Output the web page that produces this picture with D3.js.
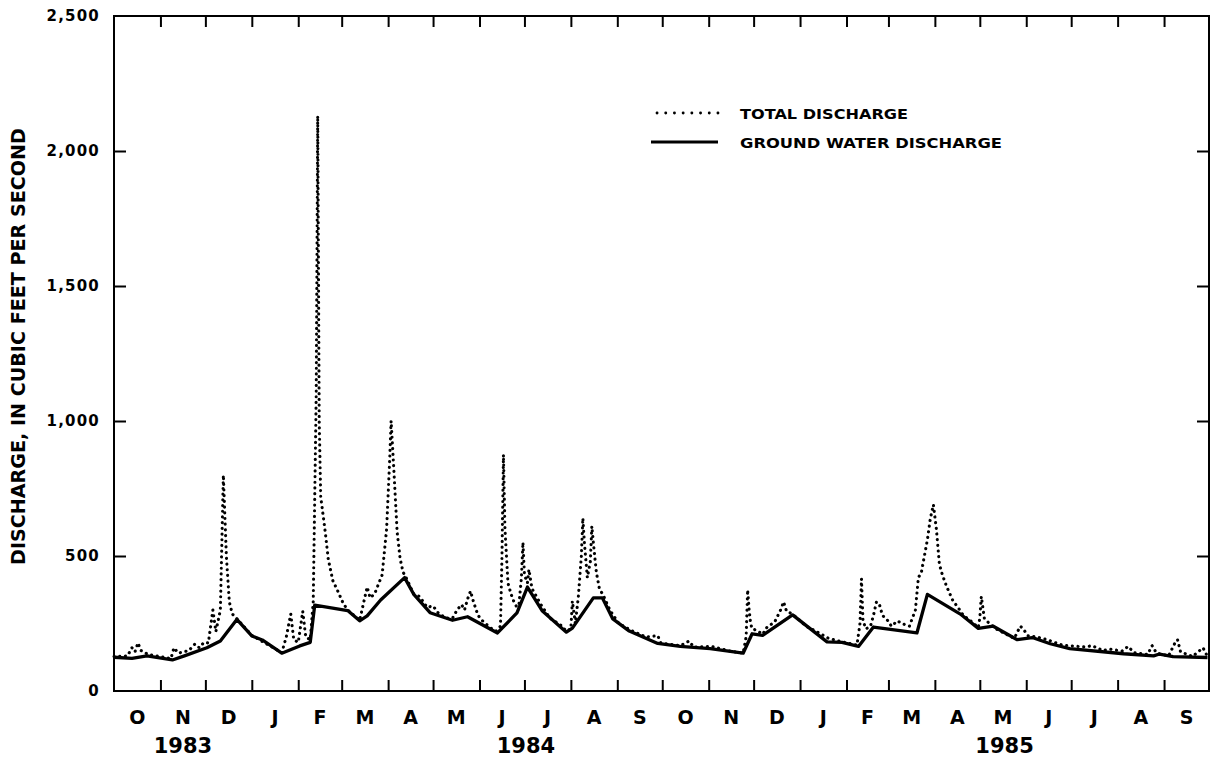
<!DOCTYPE html>
<html>
<head>
<meta charset="utf-8">
<script src="https://cdn.jsdelivr.net/npm/d3@7"></script>
<style>
  html, body { margin: 0; padding: 0; background: #ffffff; }
  svg { display: block; }
</style>
</head>
<body>
<svg id="chart" width="1214" height="764"></svg>
<script>
// ---------------- DATA ----------------
const monthLabels = ["O","N","D","J","F","M","A","M","J","J","A","S",
                     "O","N","D","J","F","M","A","M","J","J","A","S"];
const yearLabels = ["1983", "1984", "1985"];
const yTickValues = [0, 500, 1000, 1500, 2000, 2500];
const legendLabels = ["TOTAL DISCHARGE", "GROUND WATER DISCHARGE"];
const yTitle = "DISCHARGE, IN CUBIC FEET PER SECOND";

// ground water discharge (solid line), cubic feet per second
const groundWater = [
  ["1983-10-01",125],["1983-10-13",121],["1983-10-23",130],["1983-11-09",115],
  ["1983-11-17",130],["1983-12-02",160],["1983-12-11",185],["1983-12-22",265],
  ["1984-01-01",204],["1984-01-08",189],["1984-01-21",140],["1984-02-02",167],
  ["1984-02-09",180],["1984-02-12",318],["1984-03-05",298],["1984-03-13",260],
  ["1984-03-18",278],["1984-03-27",337],["1984-04-12",420],["1984-04-18",359],
  ["1984-04-29",290],["1984-05-14",262],["1984-05-24",275],["1984-06-13",215],
  ["1984-06-26",289],["1984-07-03",385],["1984-07-13",296],["1984-07-29",218],
  ["1984-08-02",233],["1984-08-16",345],["1984-08-22",345],["1984-08-29",267],
  ["1984-09-09",222],["1984-09-28",176],["1984-10-13",165],["1984-11-02",157],
  ["1984-11-24",140],["1984-11-30",212],["1984-12-07",206],["1984-12-27",282],
  ["1985-01-19",182],["1985-01-29",180],["1985-02-09",165],["1985-02-19",237],
  ["1985-03-20",215],["1985-03-27",358],["1985-04-18",285],["1985-04-30",232],
  ["1985-05-10",240],["1985-05-26",190],["1985-06-05",198],["1985-06-17",175],
  ["1985-06-30",157],["1985-08-05",138],["1985-08-25",130],["1985-08-29",137],
  ["1985-09-07",127],["1985-09-30",124]
];

// total discharge (dotted line), cubic feet per second
const totalDischarge = [
  ["1983-10-01",128],["1983-10-10",130],["1983-10-13",160],["1983-10-15",145],
  ["1983-10-17",178],["1983-10-19",150],["1983-10-24",135],["1983-11-08",120],
  ["1983-11-10",160],["1983-11-13",140],["1983-11-20",150],["1983-11-24",174],
  ["1983-11-27",160],["1983-11-30",180],["1983-12-03",178],["1983-12-06",300],
  ["1983-12-08",220],["1983-12-11",300],["1983-12-13",800],["1983-12-15",500],
  ["1983-12-17",330],["1983-12-19",285],["1983-12-22",268],["1984-01-01",206],
  ["1984-01-21",142],["1984-01-24",200],["1984-01-27",285],["1984-01-29",190],
  ["1984-02-01",180],["1984-02-04",295],["1984-02-06",200],["1984-02-09",190],
  ["1984-02-11",330],["1984-02-13",1100],["1984-02-14",2130],["1984-02-15",1000],
  ["1984-02-16",720],["1984-02-19",590],["1984-02-21",490],["1984-02-24",410],
  ["1984-02-27",375],["1984-03-02",325],["1984-03-05",300],["1984-03-13",262],
  ["1984-03-18",385],["1984-03-20",345],["1984-03-23",360],["1984-03-28",430],
  ["1984-03-31",600],["1984-04-02",850],["1984-04-03",1000],["1984-04-05",800],
  ["1984-04-07",590],["1984-04-09",490],["1984-04-11",440],["1984-04-13",420],
  ["1984-04-18",360],["1984-04-22",350],["1984-04-27",310],["1984-05-01",315],
  ["1984-05-05",285],["1984-05-10",270],["1984-05-14",270],["1984-05-17",300],
  ["1984-05-20",320],["1984-05-22",300],["1984-05-24",340],["1984-05-26",370],
  ["1984-05-28",330],["1984-05-31",280],["1984-06-03",260],["1984-06-08",235],
  ["1984-06-12",222],["1984-06-15",240],["1984-06-16",500],["1984-06-17",875],
  ["1984-06-18",600],["1984-06-20",400],["1984-06-22",360],["1984-06-24",330],
  ["1984-06-27",300],["1984-06-29",420],["1984-06-30",550],["1984-07-01",430],
  ["1984-07-03",400],["1984-07-04",450],["1984-07-06",380],["1984-07-08",360],
  ["1984-07-12",320],["1984-07-18",270],["1984-07-25",245],["1984-07-29",222],
  ["1984-08-01",230],["1984-08-02",333],["1984-08-04",250],["1984-08-06",350],
  ["1984-08-08",500],["1984-08-09",640],["1984-08-10",550],["1984-08-12",420],
  ["1984-08-14",480],["1984-08-15",610],["1984-08-16",550],["1984-08-18",440],
  ["1984-08-20",380],["1984-08-23",350],["1984-08-27",300],["1984-09-02",250],
  ["1984-09-10",225],["1984-09-20",200],["1984-09-28",205],["1984-09-30",178],
  ["1984-10-13",168],["1984-10-19",185],["1984-10-22",162],["1984-11-03",165],
  ["1984-11-15",148],["1984-11-24",140],["1984-11-26",200],["1984-11-27",375],
  ["1984-11-28",300],["1984-11-29",250],["1984-11-30",230],["1984-12-03",225],
  ["1984-12-07",210],["1984-12-10",237],["1984-12-15",255],["1984-12-19",300],
  ["1984-12-21",330],["1984-12-23",295],["1984-12-27",285],["1985-01-05",240],
  ["1985-01-12",220],["1985-01-20",195],["1985-01-29",182],["1985-02-08",170],
  ["1985-02-10",250],["1985-02-11",415],["1985-02-12",260],["1985-02-14",230],
  ["1985-02-17",240],["1985-02-19",280],["1985-02-21",330],["1985-02-23",320],
  ["1985-02-25",280],["1985-02-28",265],["1985-03-03",240],["1985-03-07",260],
  ["1985-03-10",250],["1985-03-15",240],["1985-03-19",300],["1985-03-21",420],
  ["1985-03-23",440],["1985-03-25",500],["1985-03-27",560],["1985-03-29",640],
  ["1985-03-31",690],["1985-04-02",600],["1985-04-04",470],["1985-04-06",430],
  ["1985-04-09",385],["1985-04-13",335],["1985-04-17",305],["1985-04-20",280],
  ["1985-04-26",255],["1985-04-30",235],["1985-05-01",270],["1985-05-02",350],
  ["1985-05-04",270],["1985-05-07",252],["1985-05-12",230],["1985-05-17",215],
  ["1985-05-24",195],["1985-05-28",240],["1985-05-30",230],["1985-06-02",205],
  ["1985-06-08",200],["1985-06-15",190],["1985-06-25",170],["1985-07-10",163],
  ["1985-07-15",168],["1985-07-22",150],["1985-07-27",155],["1985-08-04",148],
  ["1985-08-08",165],["1985-08-12",142],["1985-08-21",135],["1985-08-24",168],
  ["1985-08-27",140],["1985-09-04",130],["1985-09-08",175],["1985-09-10",190],
  ["1985-09-12",145],["1985-09-20",128],["1985-09-27",160],["1985-09-30",128]
];

// ---------------- CHART ----------------
const W = 1214, H = 764;
const margin = { left: 114, top: 16, right: 5, bottom: 73 };
const x0 = margin.left, x1 = W - margin.right;
const y0 = H - margin.bottom, y1 = margin.top;

const parse = d3.timeParse("%Y-%m-%d");
const startDate = new Date(1983, 9, 1), endDate = new Date(1985, 9, 1);

const x = d3.scaleTime().domain([startDate, endDate]).range([x0, x1]);
const y = d3.scaleLinear().domain([0, 2500]).range([y0, y1]);

const svg = d3.select("#chart");
const boldFont = "'DejaVu Sans', 'Liberation Sans', sans-serif";
const narrowFont = "'Liberation Sans Narrow', 'DejaVu Sans Condensed', 'Liberation Sans', sans-serif";

// Frame
svg.append("rect")
  .attr("x", x0).attr("y", y1)
  .attr("width", x1 - x0).attr("height", y0 - y1)
  .attr("fill", "none").attr("stroke", "#000").attr("stroke-width", 2);

const monthTicks = d3.timeMonth.range(d3.timeMonth.offset(startDate, 1), endDate);

const bottomAxis = d3.axisBottom(x).tickValues(monthTicks).tickSizeInner(-11).tickSizeOuter(0).tickFormat("");
const gB = svg.append("g").attr("transform", `translate(0,${y0})`).call(bottomAxis);
const topAxis = d3.axisTop(x).tickValues(monthTicks).tickSizeInner(-11).tickSizeOuter(0).tickFormat("");
const gT = svg.append("g").attr("transform", `translate(0,${y1})`).call(topAxis);
const leftAxis = d3.axisLeft(y).tickValues(yTickValues.slice(1, -1)).tickSizeInner(-12).tickSizeOuter(0).tickFormat("");
const gL = svg.append("g").attr("transform", `translate(${x0},0)`).call(leftAxis);
const rightAxis = d3.axisRight(y).tickValues(yTickValues.slice(1, -1)).tickSizeInner(-12).tickSizeOuter(0).tickFormat("");
const gR = svg.append("g").attr("transform", `translate(${x1},0)`).call(rightAxis);

[gB, gT, gL, gR].forEach(g => {
  g.select(".domain").remove();
  g.selectAll(".tick line").attr("stroke", "#000").attr("stroke-width", 2);
});

// Y tick labels
svg.append("g").selectAll("text")
  .data(yTickValues)
  .join("text")
  .attr("x", 100)
  .attr("y", d => y(d))
  .attr("dy", "0.36em")
  .attr("text-anchor", "end")
  .attr("font-family", boldFont)
  .attr("font-weight", "bold")
  .attr("font-size", 15)
  .attr("letter-spacing", 1.2)
  .text(d => d3.format(",")(d));

// Month labels
const monthStarts = d3.timeMonth.range(startDate, endDate);
svg.append("g").selectAll("text")
  .data(monthStarts)
  .join("text")
  .attr("x", d => (x(d) + x(d3.timeMonth.offset(d, 1))) / 2)
  .attr("y", 724)
  .attr("text-anchor", "middle")
  .attr("font-family", boldFont)
  .attr("font-weight", "bold")
  .attr("font-size", 19)
  .text((d, i) => monthLabels[i]);

// Year labels centered on visible span of each year
svg.append("g").selectAll("text")
  .data(yearLabels)
  .join("text")
  .attr("x", d => {
    const a = new Date(Math.max(+new Date(+d, 0, 1), +startDate));
    const b = new Date(Math.min(+new Date(+d + 1, 0, 1), +endDate));
    return (x(a) + x(b)) / 2;
  })
  .attr("y", 753)
  .attr("text-anchor", "middle")
  .attr("font-family", boldFont)
  .attr("font-weight", "bold")
  .attr("font-size", 21)
  .text(d => d);

// Y axis title
svg.append("text")
  .attr("transform", `translate(25,${(128 + 565) / 2}) rotate(-90)`)
  .attr("text-anchor", "middle")
  .attr("font-family", narrowFont)
  .attr("font-weight", "bold")
  .attr("font-size", 20)
  .attr("textLength", 437)
  .attr("lengthAdjust", "spacingAndGlyphs")
  .text(yTitle);

// Lines
const gwData = groundWater.map(d => ({ date: parse(d[0]), value: d[1] }));
const totData = totalDischarge.map(d => ({ date: parse(d[0]), value: d[1] }));
const line = d3.line().x(d => x(d.date)).y(d => y(d.value));

svg.append("path")
  .datum(totData)
  .attr("d", line)
  .attr("fill", "none")
  .attr("stroke", "#000")
  .attr("stroke-width", 3.1)
  .attr("stroke-linecap", "round")
  .attr("stroke-dasharray", "0.1,5.6");

svg.append("path")
  .datum(gwData)
  .attr("d", line)
  .attr("fill", "none")
  .attr("stroke", "#000")
  .attr("stroke-width", 3.3)
  .attr("stroke-linejoin", "round");

// Legend
const legend = svg.append("g");
legend.append("line")
  .attr("x1", 657).attr("x2", 718).attr("y1", 113).attr("y2", 113)
  .attr("stroke", "#000").attr("stroke-width", 2.8)
  .attr("stroke-linecap", "round").attr("stroke-dasharray", "0.1,8.6");
legend.append("line")
  .attr("x1", 651).attr("x2", 718).attr("y1", 142).attr("y2", 142)
  .attr("stroke", "#000").attr("stroke-width", 3);
legend.selectAll("text.lbl")
  .data(legendLabels)
  .join("text")
  .attr("class", "lbl")
  .attr("x", 740)
  .attr("y", (d, i) => 119 + i * 29)
  .attr("font-family", boldFont)
  .attr("font-weight", "bold")
  .attr("font-size", 14)
  .attr("textLength", (d, i) => i === 0 ? 168 : 262)
  .attr("lengthAdjust", "spacingAndGlyphs")
  .text(d => d);
</script>
</body>
</html>
